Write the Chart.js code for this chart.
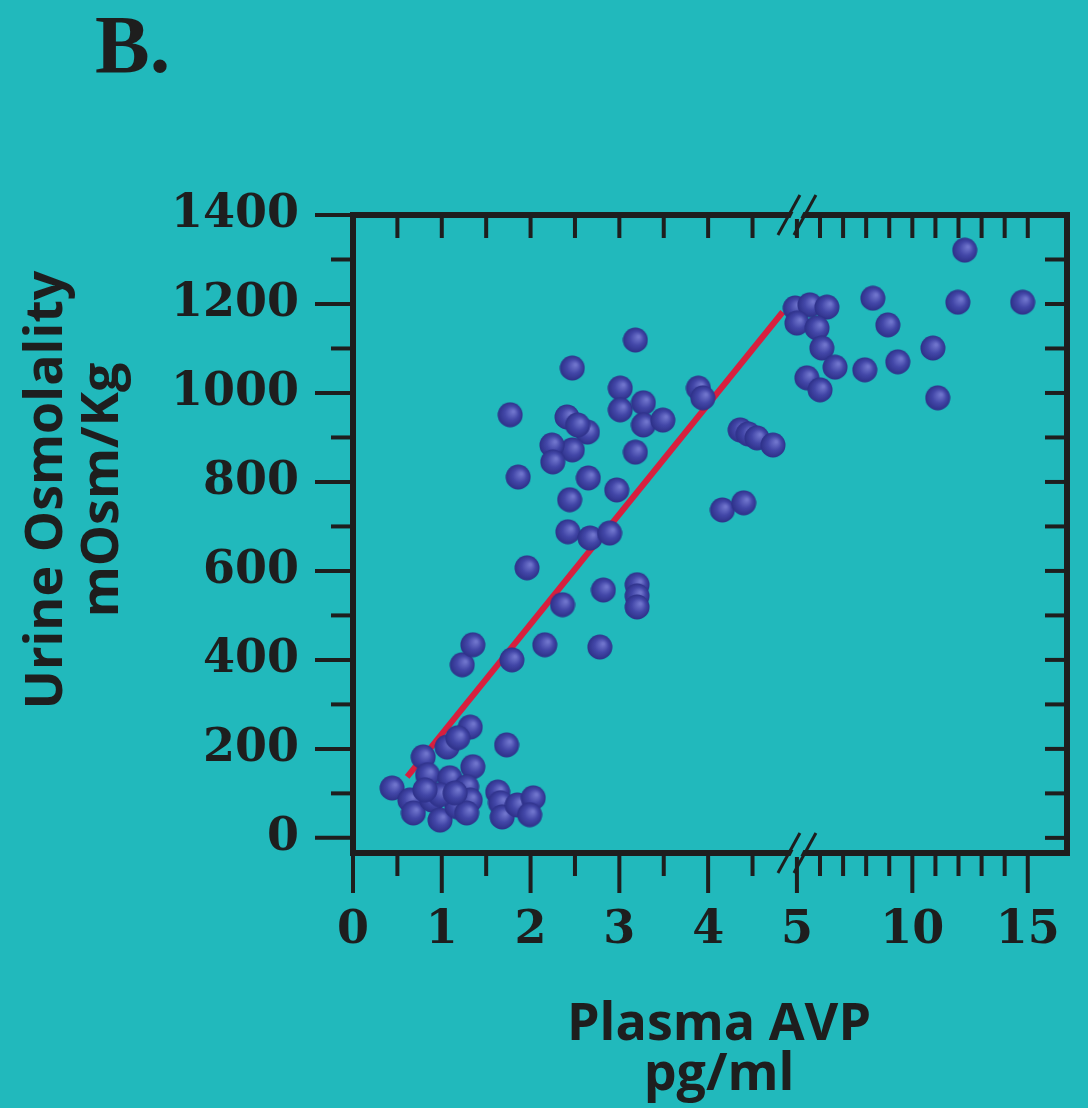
<!DOCTYPE html>
<html>
<head>
<meta charset="utf-8">
<script src="https://cdn.jsdelivr.net/npm/chart.js"></script>
<style>
  html, body { margin: 0; padding: 0; background: #21b9bc; }
  #chart { display: block; }
</style>
</head>
<body>
<canvas id="chart" width="1088" height="1108"></canvas>
<script>
// plasma AVP (pg/ml) and urine osmolality (mOsm/Kg)
const avp = [
  1.73, 1.32, 1.06, 0.79, 1.35, 0.44, 0.84, 1.09, 1.28, 0.64, 0.68, 0.89, 0.98,
  1.17, 1.32, 1.28, 1.63, 1.66, 1.68, 1.85, 2.03, 1.99, 0.98, 1.15, 0.81, 1.18,
  1.23, 1.35, 1.79, 2.16, 2.78, 1.96, 2.36, 2.82, 3.20, 3.20, 3.20, 2.42, 2.67, 2.89,
  3.18, 2.47, 1.77, 3.01, 3.01, 3.27, 3.27, 3.49, 2.41, 2.64, 2.47, 2.24, 2.25,
  3.18, 1.86, 2.65, 2.97, 2.44, 3.89, 3.94, 2.53,
  4.36, 4.45, 4.55, 4.73, 4.16, 4.40,
  4.98, 5.56, 6.30, 5.00, 5.87, 6.08, 6.65, 5.43, 6.00, 8.29, 8.94, 10.89, 9.37,
  7.94, 11.10, 12.27, 11.97, 14.78
];
const osm = [
  209, 249, 204, 182, 160, 112, 142, 135, 115, 85, 56, 85, 40,
  70, 85, 56, 103, 79, 47, 74, 90, 52, 97, 101, 108, 225,
  389, 434, 400, 434, 429, 607, 524, 557, 569, 544, 519, 688, 674, 685,
  1119, 1056, 951, 1011, 962, 978, 928, 939, 946, 912, 872, 883, 845,
  867, 811, 809, 782, 760, 1011, 989, 928,
  917, 908, 899, 883, 737, 753,
  1191, 1198, 1193, 1157, 1146, 1101, 1058, 1034, 1007, 1213, 1153, 1101, 1070,
  1052, 989, 1321, 1204, 1204
];
// ends of the red regression line
const fitAvp = [0.61, 4.84];
const fitOsm = [137, 1182];

const xMajor = [0, 1, 2, 3, 4, 5, 10, 15];
const xMinor = [0.5, 1.5, 2.5, 3.5, 4.5, 6, 7, 8, 9, 11, 12, 13, 14];
const yMajor = [0, 200, 400, 600, 800, 1000, 1200, 1400];
const yMinor = [100, 300, 500, 700, 900, 1100, 1300];

const BREAK = 5;      // x axis is broken at 5 pg/ml
const SQUEEZE = 0.26; // past the break one unit is drawn this much shorter

const ink = '#1e1e1e';
const teal = '#21b9bc';

// linear axis with a compressed part after the break
class BrokenScale extends Chart.LinearScale {
  toU(v) { return v <= BREAK ? v : BREAK + (v - BREAK) * SQUEEZE; }
  getPixelForValue(v) {
    if (v === null || v === undefined) return NaN;
    const a = this.toU(this.min), b = this.toU(this.max);
    return this.getPixelForDecimal((this.toU(v) - a) / (b - a));
  }
  getValueForPixel(p) {
    const a = this.toU(this.min), b = this.toU(this.max);
    const u = a + this.getDecimalForPixel(p) * (b - a);
    return u <= BREAK ? u : BREAK + (u - BREAK) / SQUEEZE;
  }
}
BrokenScale.id = 'broken';
BrokenScale.defaults = {};
Chart.register(BrokenScale);

// shaded blue ball used as the point style
function makeBall(d) {
  const c = document.createElement('canvas');
  c.width = d; c.height = d;
  const g = c.getContext('2d');
  const r = d / 2;
  const grad = g.createRadialGradient(r * 1.25, r * 0.75, 1, r, r, r);
  grad.addColorStop(0, '#6f74cc');
  grad.addColorStop(0.5, '#4347a8');
  grad.addColorStop(1, '#2c2f86');
  g.fillStyle = grad;
  g.beginPath();
  g.arc(r, r, r - 0.5, 0, Math.PI * 2);
  g.fill();
  return c;
}
const ball = makeBall(26);

const tickFont = { family: 'DejaVu Serif', weight: 'bold', size: 46 };

const frame = {
  id: 'frame',
  beforeDraw(chart) {
    const ctx = chart.ctx;
    ctx.save();
    ctx.fillStyle = teal;
    ctx.fillRect(0, 0, chart.width, chart.height);
    ctx.restore();
  },
  afterDraw(chart) {
    const { ctx, chartArea: { left, right, top, bottom }, scales: { x, y } } = chart;
    ctx.save();
    ctx.strokeStyle = ink;
    ctx.lineCap = 'butt';

    function seg(x1, y1, x2, y2) {
      ctx.beginPath();
      ctx.moveTo(x1, y1);
      ctx.lineTo(x2, y2);
      ctx.stroke();
    }

    // ticks
    ctx.lineWidth = 4;
    xMajor.forEach(v => seg(x.getPixelForValue(v), bottom, x.getPixelForValue(v), bottom + 40));
    xMinor.forEach(v => seg(x.getPixelForValue(v), bottom, x.getPixelForValue(v), bottom + 23));
    xMajor.concat(xMinor).filter(v => v > 0).forEach(v =>
      seg(x.getPixelForValue(v), top, x.getPixelForValue(v), top + 23));
    yMajor.forEach(v => seg(left - 38, y.getPixelForValue(v), left, y.getPixelForValue(v)));
    yMinor.forEach(v => seg(left - 22, y.getPixelForValue(v), left, y.getPixelForValue(v)));
    yMajor.concat(yMinor).filter(v => v < 1400).forEach(v =>
      seg(right - 22, y.getPixelForValue(v), right, y.getPixelForValue(v)));

    // box
    ctx.lineWidth = 6;
    ctx.strokeRect(left, top, right - left, bottom - top);

    // break marks on top and bottom edge
    const bx = x.getPixelForValue(BREAK);
    [top, bottom].forEach(ey => {
      ctx.fillStyle = teal;
      ctx.beginPath();
      ctx.moveTo(bx - 5 - 2, ey + 4);
      ctx.lineTo(bx + 5 - 2, ey + 4);
      ctx.lineTo(bx + 5 + 2, ey - 4);
      ctx.lineTo(bx - 5 + 2, ey - 4);
      ctx.closePath();
      ctx.fill();
      ctx.lineWidth = 3;
      [-8, 8].forEach(o => seg(bx + o - 11, ey + 20, bx + o + 11, ey - 20));
    });

    // texts
    ctx.fillStyle = ink;
    ctx.textBaseline = 'alphabetic';
    ctx.textAlign = 'left';
    ctx.font = 'bold 82px "Liberation Serif"';
    ctx.fillText('B.', 95, 72);

    ctx.font = 'bold 52px "Open Sans"';
    ctx.textAlign = 'center';
    ctx.fillText('Plasma AVP', 719, 1040);
    ctx.fillText('pg/ml', 719, 1090);

    [['Urine Osmolality', 62], ['mOsm/Kg', 118]].forEach(([t, px]) => {
      ctx.save();
      ctx.translate(px, 490);
      ctx.rotate(-Math.PI / 2);
      ctx.fillText(t, 0, 0);
      ctx.restore();
    });
    ctx.restore();
  }
};

new Chart(document.getElementById('chart'), {
  type: 'scatter',
  data: {
    datasets: [
      {
        data: avp.map((v, i) => ({ x: v, y: osm[i] })),
        pointStyle: ball,
        pointRadius: 13
      },
      {
        data: fitAvp.map((v, i) => ({ x: v, y: fitOsm[i] })),
        showLine: true,
        pointRadius: 0,
        borderColor: '#d81f3e',
        borderWidth: 6
      }
    ]
  },
  options: {
    responsive: false,
    animation: false,
    layout: { padding: { top: 215, right: 21, left: 0, bottom: 0 } },
    plugins: {
      legend: { display: false },
      tooltip: { enabled: false }
    },
    scales: {
      x: {
        type: 'broken',
        min: 0,
        max: 16.7,
        grid: { display: false, drawTicks: false },
        border: { display: false },
        afterBuildTicks: s => { s.ticks = xMajor.map(v => ({ value: v })); },
        afterFit: s => { s.height = 255; s.paddingLeft = 0; s.paddingRight = 0; },
        ticks: {
          autoSkip: false,
          maxRotation: 0,
          padding: 50,
          color: ink,
          font: tickFont,
          callback: v => String(v)
        }
      },
      y: {
        min: -34,
        max: 1400,
        grid: { display: false, drawTicks: false },
        border: { display: false },
        afterBuildTicks: s => { s.ticks = yMajor.map(v => ({ value: v })); },
        afterFit: s => { s.width = 353; s.paddingTop = 0; s.paddingBottom = 0; },
        ticks: {
          autoSkip: false,
          padding: 54,
          color: ink,
          font: tickFont,
          callback: v => String(v)
        }
      }
    }
  },
  plugins: [frame]
});
</script>
</body>
</html>
